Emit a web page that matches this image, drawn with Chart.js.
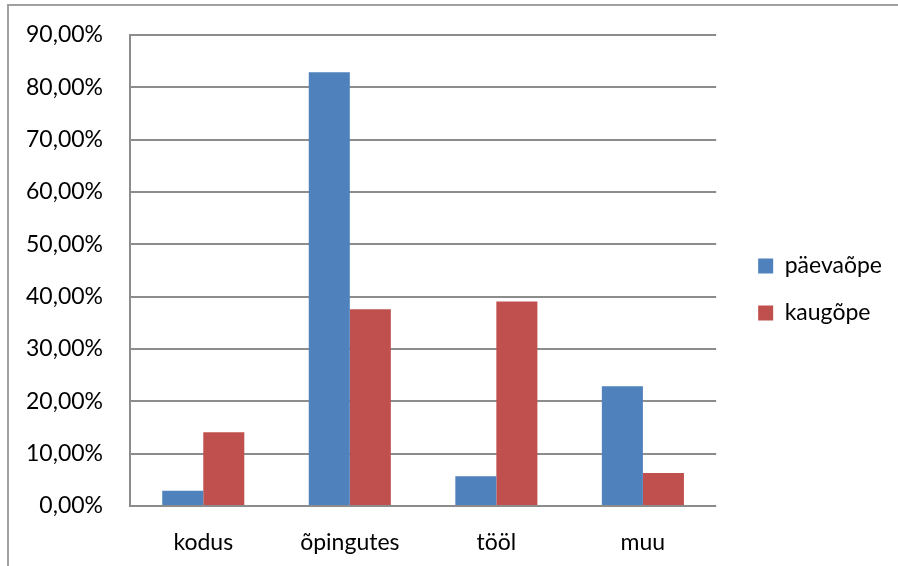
<!DOCTYPE html>
<html>
<head>
<meta charset="utf-8">
<script src="https://cdn.jsdelivr.net/npm/chart.js@4"></script>
<style>
    html, body { margin: 0; padding: 0; background: #fff; }
    #wrap { position: relative; width: 898px; height: 566px; overflow: hidden; }
    #frame { position: absolute; left: 7px; top: 4px; width: 1000px; height: 1000px; border: 2px solid #a0a0a0; box-sizing: border-box; }
    canvas { position: absolute; left: 0; top: 0; }
</style>
</head>
<body>
<div id="wrap">
    <div id="frame"></div>
    <canvas id="myChart" width="898" height="566"></canvas>
</div>
<script>
// --- Data ---
const categories = ['kodus', 'õpingutes', 'tööl', 'muu'];
const seriesNames = ['päevaõpe', 'kaugõpe'];
const paevaope = [0.029, 0.829, 0.057, 0.229];
const kaugope = [0.141, 0.376, 0.391, 0.063];
const yTicks = [0, 0.1, 0.2, 0.3, 0.4, 0.5, 0.6, 0.7, 0.8, 0.9];

const FONT = 'Lato';

// legend shift, set after checking output
const legendNudge = {
    id: 'legendNudge',
    afterLayout(chart, args, opts) {
        const lg = chart.legend;
        if (!lg) return;
        lg.left += opts.dx; lg.right += opts.dx;
        lg.top += opts.dy; lg.bottom += opts.dy;
    }
};

// format like 90,00%
function pct(v) {
    return (v * 100).toFixed(2).replace('.', ',') + '%';
}

const ctx = document.getElementById('myChart');
new Chart(ctx, {
    type: 'bar',
    data: {
        labels: categories,
        datasets: [
            { label: seriesNames[0], data: paevaope, backgroundColor: '#4F81BD' },
            { label: seriesNames[1], data: kaugope, backgroundColor: '#C0504D' }
        ]
    },
    plugins: [legendNudge],
    options: {
        responsive: false,
        animation: false,
        devicePixelRatio: 1,
        layout: { padding: { left: 8, top: 35, right: 24, bottom: 0 } },
        datasets: { bar: { categoryPercentage: 0.56, barPercentage: 1.0 } },
        plugins: {
            legend: {
                position: 'right',
                labels: {
                    boxWidth: 15, boxHeight: 15, padding: 24,
                    color: '#000',
                    font: { family: FONT, size: 23 }
                }
            },
            legendNudge: { dx: 18, dy: -11 },
            tooltip: { enabled: false }
        },
        scales: {
            x: {
                grid: { display: false, drawTicks: false },
                border: { display: false },
                ticks: { color: '#000', padding: 23, font: { family: FONT, size: 23 } },
                afterFit(scale) { scale.height = 60; }
            },
            y: {
                min: 0, max: 0.9,
                afterBuildTicks(scale) { scale.ticks = yTicks.map(v => ({ value: v })); },
                grid: { color: '#8c8c8c', lineWidth: 2, drawTicks: false },
                border: { color: '#8c8c8c', width: 2 },
                ticks: { color: '#000', padding: 27, font: { family: FONT, size: 23 }, callback: v => pct(v) },
                afterFit(scale) { scale.width = 122; scale.paddingTop = 0; scale.paddingBottom = 0; }
            }
        }
    }
});
</script>
</body>
</html>
